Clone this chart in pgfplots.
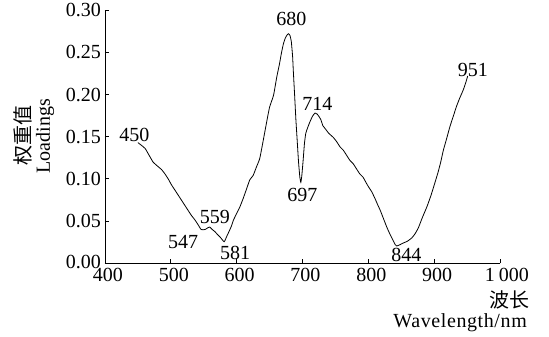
\documentclass[border=0pt]{standalone}
\usepackage{fontspec}
\setmainfont{Liberation Serif}
\newfontfamily\cjk{Noto Sans CJK SC}
\usepackage{pgfplots}
\pgfplotsset{compat=1.18}
\newcommand{\bigf}{\fontsize{20bp}{24bp}\selectfont}
\begin{document}
\begin{tikzpicture}
\useasboundingbox (-105bp,-73.7bp) rectangle (444bp,263.3bp);
\begin{axis}[
  at={(0,0)}, anchor=south west,
  x=0.6583bp, y=844bp,
  xmin=400, xmax=1000, ymin=0, ymax=0.3,
  axis x line=bottom, axis y line=left,
  axis line style={-, line width=0.8bp},
  xtick={400,500,600,700,800,900,1000},
  xticklabels={400,500,600,700,800,900,\hspace*{8bp}1\hspace{4bp}000},
  ytick={0,0.05,0.10,0.15,0.20,0.25,0.30},
  yticklabels={\raisebox{2.5bp}{0.00},0.05,0.10,0.15,0.20,0.25,0.30},
  tick align=inside, major tick length=4bp,
  tick style={black, line width=0.8bp},
  xticklabel style={font=\bigf, inner sep=5bp, xshift=3bp},
  yticklabel style={font=\bigf, inner sep=4bp},
  clip=false,
]
\addplot[black, line width=0.8bp, smooth, tension=0.3] coordinates {
(450,0.143) (455,0.140) (461,0.136) (467,0.128) (473,0.120) (480,0.115)
(486,0.111) (491,0.106) (496,0.100) (501,0.093) (506,0.087) (511,0.081)
(516,0.075) (521,0.069) (526,0.063) (531,0.057) (537,0.051) (542,0.045)
(546,0.040) (552,0.040) (556,0.042) (559,0.043) (563,0.040) (567,0.0375)
(571,0.034) (575,0.031) (581,0.0256) (585,0.032) (588,0.037) (592,0.044)
(595,0.051) (600,0.059) (605,0.067) (610,0.077) (615,0.088) (620,0.099)
(625,0.104) (630,0.114) (635,0.124) (640,0.144) (645,0.165) (650,0.185)
(656,0.199) (661,0.221) (665,0.236) (668,0.249) (671,0.260) (674,0.267)
(677,0.271) (679,0.272) (681,0.270) (683,0.263) (685,0.245) (686,0.229)
(688,0.200) (690,0.170) (692,0.145) (694,0.120) (696,0.102) (697.5,0.096)
(699,0.104) (701,0.122) (703,0.142) (705,0.154) (708,0.161) (711,0.167)
(715,0.174) (719,0.178) (722,0.177) (725,0.174) (728,0.170) (731,0.163)
(734,0.160) (740,0.154) (747,0.149) (752,0.144) (757,0.138) (762,0.134)
(767,0.128) (772,0.122) (777,0.118) (782,0.112) (787,0.106) (792,0.102)
(797,0.095) (800,0.091) (805,0.085) (810,0.077) (815,0.068) (818,0.063)
(823,0.053) (828,0.043) (832,0.036) (837,0.028) (841,0.022) (843,0.0205)
(848,0.022) (853,0.024) (859,0.026) (866,0.030) (871,0.035) (876,0.042)
(882,0.054) (889,0.067) (895,0.080) (901,0.095) (906,0.108) (910,0.120)
(914,0.134) (918,0.145) (924,0.162) (929,0.174) (934,0.186) (939,0.196)
(944,0.205) (948,0.214) (951,0.222)
};
\begin{scope}[every node/.style={font=\bigf, inner sep=0pt, anchor=center}]
\node at (axis cs:444.8,0.1526) {450};
\node at (axis cs:683.3,0.2895) {680};
\node at (axis cs:722.8,0.1893) {714};
\node at (axis cs:700,0.0810) {697};
\node at (axis cs:959,0.2296) {951};
\node at (axis cs:567.1,0.0554) {559};
\node at (axis cs:518.5,0.0252) {547};
\node at (axis cs:597.5,0.0128) {581};
\node at (axis cs:858,0.0098) {844};
\end{scope}
\end{axis}
\node[font=\bigf\cjk, anchor=east, inner sep=0pt] at (425bp,-36.7bp) {波长};
\node[font=\bigf\addfontfeature{LetterSpace=3}, anchor=east, inner sep=0pt] at (422bp,-59.7bp) {Wavelength/nm};
\node[font=\bigf\cjk, rotate=90, inner sep=0pt] at (-82.5bp,128bp) {权重值};
\node[font=\bigf, rotate=90, inner sep=0pt] at (-60bp,127bp) {Loadings};
\end{tikzpicture}
\end{document}
